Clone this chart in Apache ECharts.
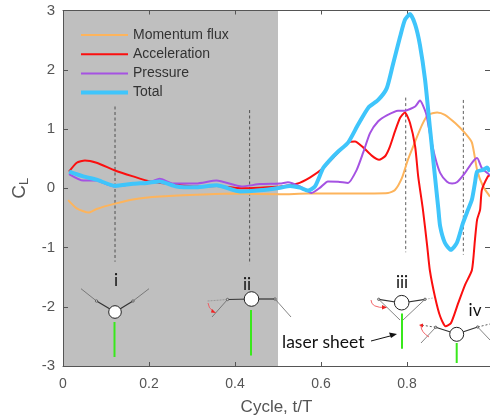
<!DOCTYPE html>
<html><head><meta charset="utf-8">
<style>html,body{margin:0;padding:0;background:#fff}#c{width:490px;height:416px}</style>
<script src="https://cdn.jsdelivr.net/npm/echarts@6/dist/echarts.min.js"></script>
</head><body><div id="c"></div>
<script>
const momentumFlux = [[0.012,-0.2],[0.032,-0.34],[0.06,-0.41],[0.078,-0.35],[0.121,-0.26],[0.163,-0.19],[0.225,-0.14],[0.31,-0.11],[0.395,-0.09],[0.505,-0.1],[0.57,-0.09],[0.663,-0.09],[0.756,-0.08],[0.772,-0.03],[0.788,0.17],[0.802,0.48],[0.819,0.79],[0.835,1.07],[0.849,1.24],[0.87,1.28],[0.888,1.24],[0.912,1.1],[0.935,0.93],[0.951,0.77],[0.963,0.31],[0.977,0.03],[0.993,-0.14]];
const acceleration = [[0.014,0.28],[0.032,0.43],[0.051,0.47],[0.078,0.43],[0.121,0.3],[0.163,0.2],[0.202,0.115],[0.249,0.075],[0.31,0.03],[0.357,0.04],[0.412,0],[0.458,0.01],[0.505,0.03],[0.544,0.075],[0.574,0.18],[0.605,0.34],[0.663,0.77],[0.679,0.79],[0.698,0.69],[0.718,0.55],[0.735,0.48],[0.749,0.54],[0.76,0.7],[0.772,0.96],[0.784,1.19],[0.795,1.28],[0.807,1.1],[0.819,0.7],[0.826,0.2],[0.837,-0.36],[0.847,-0.98],[0.853,-1.38],[0.865,-1.83],[0.877,-2.16],[0.89,-2.33],[0.902,-2.28],[0.919,-1.94],[0.935,-1.63],[0.951,-1.38],[0.958,-0.87],[0.963,-0.53],[0.97,-0.36],[0.974,-0.03],[0.988,0.2],[0.993,0.22]];
const pressure = [[0.014,0.24],[0.047,0.13],[0.078,0.13],[0.093,0.09],[0.121,0.03],[0.163,0.07],[0.195,0.08],[0.225,0.16],[0.256,0.08],[0.31,0.08],[0.357,0.13],[0.416,0.03],[0.458,0.07],[0.505,0.08],[0.523,0.1],[0.551,0.03],[0.578,-0.08],[0.598,0.01],[0.616,0.115],[0.64,0.11],[0.663,0.09],[0.683,0.31],[0.698,0.6],[0.714,0.93],[0.733,1.13],[0.753,1.23],[0.779,1.31],[0.795,1.31],[0.819,1.38],[0.83,1.48],[0.844,1.27],[0.853,0.93],[0.865,0.53],[0.877,0.26],[0.893,0.11],[0.905,0.08],[0.916,0.1],[0.935,0.26],[0.951,0.43],[0.963,0.51],[0.974,0.34],[0.986,0.26],[0.993,0.22]];
const total = [[0.014,0.28],[0.047,0.2],[0.078,0.145],[0.121,0.04],[0.163,0.075],[0.195,0.09],[0.225,0.115],[0.264,0.03],[0.31,0.015],[0.357,0.05],[0.412,-0.055],[0.458,-0.035],[0.505,0.01],[0.528,0.04],[0.551,0.01],[0.57,-0.04],[0.586,0.03],[0.605,0.34],[0.621,0.48],[0.64,0.62],[0.663,0.77],[0.686,1.07],[0.71,1.36],[0.733,1.49],[0.753,1.69],[0.767,2.08],[0.784,2.56],[0.795,2.84],[0.807,2.94],[0.819,2.76],[0.83,2.42],[0.842,1.83],[0.853,1.04],[0.865,0.2],[0.873,-0.36],[0.877,-0.64],[0.888,-0.92],[0.902,-1.04],[0.916,-0.92],[0.93,-0.59],[0.942,-0.36],[0.951,-0.19],[0.958,0.09],[0.963,0.28],[0.977,0.31],[0.986,0.35],[0.993,0.28]];
const dashMarkers = [[[0.121,1.38],[0.121,-1.24]],[[0.434,1.32],[0.434,-1.28]],[[0.797,1.53],[0.797,-1.08]],[[0.931,1.49],[0.931,-1.12]]];
const shadedRange = [0, 0.5];
const yTicks = [-3,3];
const xLimit = 0.993;
const seriesNames = ['Momentum flux','Acceleration','Pressure','Total'];

const axisColor = '#555';
const labelFont = {color:'#555',fontFamily:'Liberation Sans',fontSize:14};
const xBase = {type:'value',min:0,max:xLimit,interval:0.2,splitLine:{show:false},
  axisLine:{show:true,onZero:false,lineStyle:{color:axisColor,width:1}},
  axisTick:{inside:true,length:4,lineStyle:{color:axisColor}}};
const yBase = {type:'value',min:yTicks[0],max:yTicks[1],interval:1,splitLine:{show:false},
  axisLine:{show:true,onZero:false,lineStyle:{color:axisColor,width:1}},
  axisTick:{inside:true,length:5,lineStyle:{color:axisColor}}};

function line(name,data,color,width,z){
  return {name,type:'line',data,showSymbol:false,symbol:'none',smooth:0.2,z,
    lineStyle:{color,width},itemStyle:{color},silent:true};
}
const series = [
  Object.assign(line(seriesNames[0],momentumFlux,'#fdb45c',2,5),{
    markArea:{silent:true,z:0,itemStyle:{color:'#bfbfbf'},data:[[{xAxis:shadedRange[0],yAxis:yTicks[0]},{xAxis:shadedRange[1],yAxis:yTicks[1]}]]}
  }),
  line(seriesNames[1],acceleration,'#fb0f0f',2,6),
  line(seriesNames[2],pressure,'#a552e2',2,7),
  line(seriesNames[3],total,'#3fc5fb',4,8),
];
dashMarkers.forEach((d,i)=>series.push({name:'m'+i,type:'line',data:d,showSymbol:false,symbol:'none',z:4,silent:true,
  lineStyle:{color:'#333',width:0.8,type:[3,2.5]}}));

const G=[];
const seg=(a,b,c,d,col,w,dash)=>G.push({type:'line',z:20,shape:{x1:a,y1:b,x2:c,y2:d},style:{stroke:col,lineWidth:w,lineDash:dash||null}});
const circ=(x,y,r,w)=>G.push({type:'circle',z:21,shape:{cx:x,cy:y,r},style:{fill:'#fff',stroke:'#222',lineWidth:w}});
const joint=(x,y)=>G.push({type:'circle',z:21,shape:{cx:x,cy:y,r:1.2},style:{fill:'#ccc',stroke:'#444',lineWidth:0.7}});
const txt=(x,y,t,s,a)=>G.push({type:'text',z:22,x,y,style:{text:t,fontFamily:'Lato',fontSize:s,fill:'#111',align:a||'center',verticalAlign:'middle'}});
const arc=(a,b,cx,cy,c,d)=>G.push({type:'bezierCurve',z:20,shape:{x1:a,y1:b,cpx1:cx,cpy1:cy,x2:c,y2:d},style:{stroke:'#f0555a',lineWidth:0.9,fill:null}});
const tip=(pts,col)=>G.push({type:'polygon',z:20,shape:{points:pts},style:{fill:col}});
const green='#39e81c', dark='#333', thin='#666';
seg(115,312,96.5,301,dark,1.2);seg(96.5,301,81,288.7,thin,0.8);seg(115,312,133,301,dark,1.2);seg(133,301,149,288.7,thin,0.8);
joint(96.5,301);joint(133,301);circ(115,312,6.3,1);seg(114.5,322,114.5,357,green,2);txt(116,281,'i',17);
seg(251,299,227.5,299.5,dark,1.2);seg(227.5,299.5,212,317,thin,0.8);seg(251,299,275,299,dark,1.2);seg(275,299,291,317,thin,0.8);
seg(227.5,299.5,207.5,301,'#888',0.7,[2,1]);arc(208,303,208,308,214,312);tip([[212,309],[216,313],[211,312.5]],'#e22');
joint(227.5,299.5);joint(275,299);circ(251.5,299,7.3,1);seg(251,310,251,355.5,green,2);txt(247,285,'ii',17);
seg(401.7,303,378.7,299.3,dark,1.2);seg(378.7,299.3,400,320,thin,0.8);seg(401.7,303,425,299.3,dark,1.2);seg(425,299.3,403,320,thin,0.8);
seg(425,299.3,433,298,'#aaa',0.7,[2,1]);arc(371,300,371,308,386,307.5);tip([[382,305],[387,307.5],[382,309.5]],'#e22');
joint(378.7,299.3);joint(425,299.3);circ(401.7,302.7,7.3,1);seg(402,313.5,402,348.7,green,2);txt(402,283,'iii',17);
seg(456.7,334,435.7,327.3,dark,1.2);seg(435.7,327.3,421,343,thin,0.8);seg(456.7,334,477.7,327,dark,1.2);seg(477.7,327,490,340,thin,0.8);
seg(435.7,327.3,421,325,'#333',0.8,[2,2]);seg(477.7,327,490,324,'#333',0.8,[2,2]);arc(421,326,421,332,429,337);tip([[419,325],[423,323.5],[423,327.5]],'#e22');
joint(435.7,327.3);joint(477.7,327);circ(456.7,334.3,7,1);seg(456.7,343,456.7,363,green,2);txt(475,311,'iv',17);
txt(282,342,'laser sheet',17.5,'left');
seg(371,341,392,335.5,'#111',1);tip([[397,334],[389,332.5],[391,338]],'#111');

const chart = echarts.init(document.getElementById('c'),null,{renderer:'canvas'});
chart.setOption({
  animation:false,
  backgroundColor:'#fff',
  grid:{left:63,right:0,top:10.5,bottom:50,containLabel:false,outerBoundsMode:'none'},
  legend:{show:true,left:79,top:28,padding:0,orient:'vertical',itemWidth:47,itemHeight:14,itemGap:5.2,
    data:seriesNames.map((name,i)=>({name,lineStyle:{width:[2,2,2,4][i]}})),selectedMode:false,itemStyle:{opacity:0},
    textStyle:{color:'#333',fontFamily:'Liberation Sans',fontSize:14}},
  xAxis:[
    Object.assign({},xBase,{position:'bottom',name:'Cycle, t/T',nameLocation:'middle',nameGap:33,
      nameTextStyle:{color:'#555',fontFamily:'Liberation Sans',fontSize:17},
      axisLabel:Object.assign({},labelFont,{margin:11,showMaxLabel:false,formatter:v=>Math.abs(v/0.2-Math.round(v/0.2))<1e-6?String(+v.toFixed(1)):''})}),
    Object.assign({},xBase,{position:'top',axisLabel:{show:false}})
  ],
  yAxis:[
    Object.assign({},yBase,{position:'left',name:'{c|C}{l|L}',nameLocation:'middle',nameGap:31,nameRotate:90,
      nameTextStyle:{rich:{c:{color:'#555',fontFamily:'Liberation Sans',fontSize:19},l:{color:'#555',fontFamily:'Liberation Sans',fontSize:13,verticalAlign:'bottom',padding:[8,0,0,0]}}},
      axisLabel:Object.assign({},labelFont,{margin:8,fontSize:15})}),
    Object.assign({},yBase,{position:'right',axisLabel:{show:false}})
  ],
  series,
  graphic:{elements:G}
});
</script></body></html>
